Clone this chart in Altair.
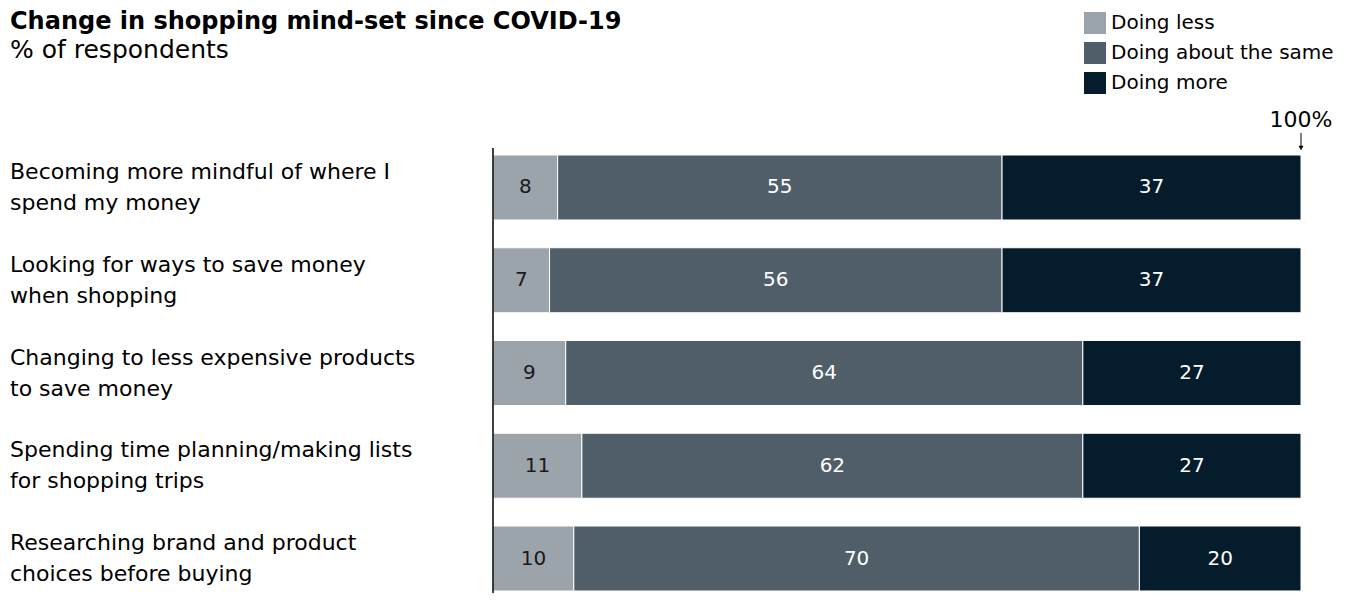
import altair as alt
import pandas as pd

categories = [
    "Becoming more mindful of where I\nspend my money",
    "Looking for ways to save money\nwhen shopping",
    "Changing to less expensive products\nto save money",
    "Spending time planning/making lists\nfor shopping trips",
    "Researching brand and product\nchoices before buying",
]
series = ["Doing less", "Doing about the same", "Doing more"]
less = [8, 7, 9, 11, 10]
same = [55, 56, 64, 62, 70]
more = [37, 37, 27, 27, 20]
colors = ["#9BA3AB", "#4F5E68", "#051C2C"]
text_colors = ["#1a1a1a", "#ffffff", "#ffffff"]

title_text = "Change in shopping mind-set since COVID-19"
subtitle_text = "% of respondents"
FONT = "DejaVu Sans"

rows = []
for i, c in enumerate(categories):
    for j, (s, vals) in enumerate(zip(series, [less, same, more])):
        rows.append({"category": c, "series": s, "value": vals[i], "order": j, "tcolor": text_colors[j]})
df = pd.DataFrame(rows)

W, H = 808, 440
yscale = alt.Scale(domain=categories, paddingInner=0.2993, paddingOuter=0.0216)
xscale = alt.Scale(domain=[0, 100], nice=False)

base = alt.Chart(df).transform_stack(
    stack="value", groupby=["category"], as_=["x0", "x1"], sort=[alt.SortField("order")]
).transform_calculate(mid="(datum.x0 + datum.x1) / 2")

bars = base.mark_bar(stroke="white", strokeWidth=1).encode(
    x=alt.X("x0:Q", scale=xscale, axis=None),
    x2="x1:Q",
    y=alt.Y("category:N", scale=yscale, axis=None),
    color=alt.Color(
        "series:N",
        scale=alt.Scale(domain=series, range=colors),
        legend=alt.Legend(
            title=None, orient="none", legendX=591, legendY=-141,
            symbolType="square", symbolSize=484, symbolStrokeWidth=0, symbolOpacity=1,
            labelFontSize=20, labelFont=FONT, labelColor="#000000", labelLimit=0,
            labelOffset=5, rowPadding=8, padding=0,
        ),
    ),
)

values = base.mark_text(fontSize=20, font=FONT).encode(
    x=alt.X("mid:Q", scale=xscale),
    y=alt.Y("category:N", scale=yscale),
    text="value:Q",
    color=alt.Color("tcolor:N", scale=None),
)

labels = alt.Chart(pd.DataFrame({"category": categories})).mark_text(
    align="left", baseline="middle", lineBreak="\n", lineHeight=31, dy=-15.5,
    fontSize=22, font=FONT, color="#000000",
).encode(
    x=alt.value(-483),
    y=alt.Y("category:N", scale=yscale),
    text="category:N",
)

one = pd.DataFrame({"t": [title_text], "s": [subtitle_text], "p": ["100%"]})

axis_line = alt.Chart(one).mark_rule(color="#000000", strokeWidth=1.5).encode(
    x=alt.value(0), y=alt.value(-5), y2=alt.value(H)
)

title = alt.Chart(one).mark_text(
    align="left", baseline="alphabetic", fontSize=24, fontWeight="bold", font=FONT, color="#000000"
).encode(x=alt.value(-483), y=alt.value(-124), text="t:N")

subtitle = alt.Chart(one).mark_text(
    align="left", baseline="alphabetic", fontSize=25, font=FONT, color="#000000"
).encode(x=alt.value(-483), y=alt.value(-95), text="s:N")

pct = alt.Chart(one).mark_text(
    align="center", baseline="alphabetic", fontSize=22, font=FONT, color="#000000"
).encode(x=alt.X(datum=100, scale=xscale), y=alt.value(-26), text="p:N")

arrow = alt.Chart(one).mark_rule(color="#000000", strokeWidth=1).encode(
    x=alt.X(datum=100, scale=xscale), y=alt.value(-20), y2=alt.value(-6)
)
head = alt.Chart(one).mark_point(shape="triangle-down", filled=True, size=25, color="#000000", opacity=1).encode(
    x=alt.X(datum=100, scale=xscale), y=alt.value(-5)
)

chart = alt.layer(bars, values, labels, axis_line, title, subtitle, pct, arrow, head).properties(
    width=W, height=H,
    padding={"left": 485, "top": 145, "right": 49, "bottom": 0},
    autosize=alt.AutoSizeParams(type="none"),
).configure_view(stroke=None)

chart.save("out.html", embed_options={"renderer": "svg", "actions": False})
